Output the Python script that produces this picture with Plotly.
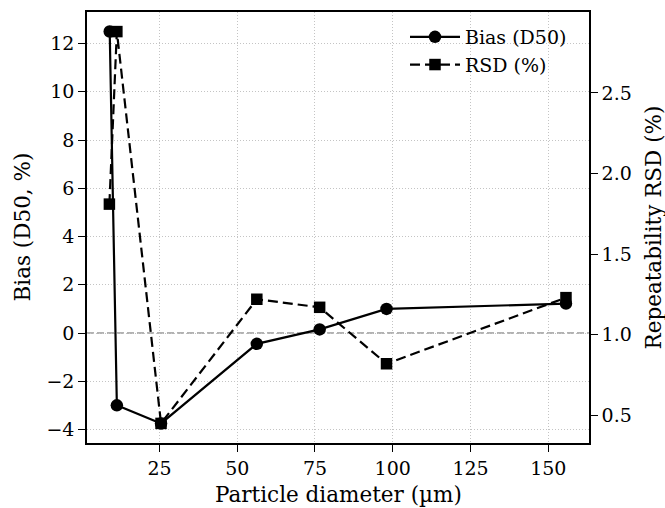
import plotly.graph_objects as go

diameter_um = [9.0, 11.3, 25.5, 56.3, 76.5, 98.0, 155.7]
bias_d50_pct = [12.5, -3.0, -3.75, -0.45, 0.15, 1.0, 1.22]
rsd_diam_um = [8.9, 11.3, 25.5, 56.3, 76.5, 98.0, 155.7]
rsd_pct = [1.81, 2.88, 0.45, 1.22, 1.17, 0.82, 1.23]

x_ticks = [25, 50, 75, 100, 125, 150]
y1_ticks = [-4, -2, 0, 2, 4, 6, 8, 10, 12]
y1_labels = ["\u22124", "\u22122", "0", "2", "4", "6", "8", "10", "12"]
y2_ticks = [0.5, 1.0, 1.5, 2.0, 2.5]
y2_labels = ["0.5", "1.0", "1.5", "2.0", "2.5"]

FONT = "DejaVu Serif"
TICK_SIZE = 19
TITLE_SIZE = 21.5

fig = go.Figure()
fig.add_trace(go.Scatter(
    x=diameter_um, y=bias_d50_pct, name="Bias (D50)", mode="lines+markers",
    line=dict(color="black", width=2.2),
    marker=dict(symbol="circle", size=12.5, color="black"),
    yaxis="y", legendgroup="a"))
fig.add_trace(go.Scatter(
    x=rsd_diam_um, y=rsd_pct, name="RSD (%)", mode="lines+markers",
    line=dict(color="black", width=2.2, dash="10px,5px"),
    marker=dict(symbol="square", size=11.5, color="black"),
    yaxis="y2", legendgroup="b"))

fig.add_shape(type="line", xref="paper", x0=0, x1=1, yref="y", y0=0, y1=0,
              line=dict(color="#999999", width=1.3, dash="7px,3px"), layer="below")

axis_common = dict(showline=True, linecolor="black", linewidth=1.5,
                   ticks="outside", ticklen=7, tickwidth=1.2, tickcolor="black",
                   tickfont=dict(family=FONT, size=TICK_SIZE, color="black"),
                   zeroline=False, automargin=False)
grid = dict(showgrid=True, gridcolor="#c4c4c4", griddash="1px,2px", gridwidth=1)

L, R, T, B = 87, 76, 12, 65
W, H = 665, 508
pw, ph = W - L - R, H - T - B

fig.update_layout(
    width=W, height=H,
    margin=dict(l=L, r=R, t=T, b=B),
    plot_bgcolor="white", paper_bgcolor="white",
    font=dict(family=FONT, color="black"),
    xaxis=dict(range=[1.7, 163.1], tickvals=x_ticks, mirror=True, **grid, **axis_common),
    yaxis=dict(range=[-4.56, 13.31], tickvals=y1_ticks, ticktext=y1_labels,
               **grid, **axis_common),
    yaxis2=dict(range=[0.3285, 3.0015], tickvals=y2_ticks, ticktext=y2_labels,
                overlaying="y", side="right", showgrid=False, **axis_common),
    legend=dict(x=(405 - L) / pw, y=1 - (18 - T) / ph, xanchor="left", yanchor="top",
                bgcolor="rgba(0,0,0,0)", borderwidth=0,
                font=dict(family=FONT, size=TICK_SIZE, color="black"),
                itemwidth=50, tracegroupgap=0),
    showlegend=True,
    annotations=[
        dict(text="Particle diameter (µm)", xref="paper", yref="paper",
             x=0.5, y=-(494 - (T + ph)) / ph, xanchor="center", yanchor="middle",
             showarrow=False, font=dict(family=FONT, size=TITLE_SIZE, color="black")),
        dict(text="Bias (D50, %)", xref="paper", yref="paper",
             x=(22 - L) / pw, y=0.5, xanchor="center", yanchor="middle", textangle=-90,
             showarrow=False, font=dict(family=FONT, size=TITLE_SIZE, color="black")),
        dict(text="Repeatability RSD (%)", xref="paper", yref="paper",
             x=(653 - L) / pw, y=0.5, xanchor="center", yanchor="middle", textangle=-90,
             showarrow=False, font=dict(family=FONT, size=TITLE_SIZE, color="black")),
    ],
)

fig.write_html("out.html", config={"displayModeBar": False},
               post_script="document.body.style.margin='0';document.body.style.overflow='hidden';")
